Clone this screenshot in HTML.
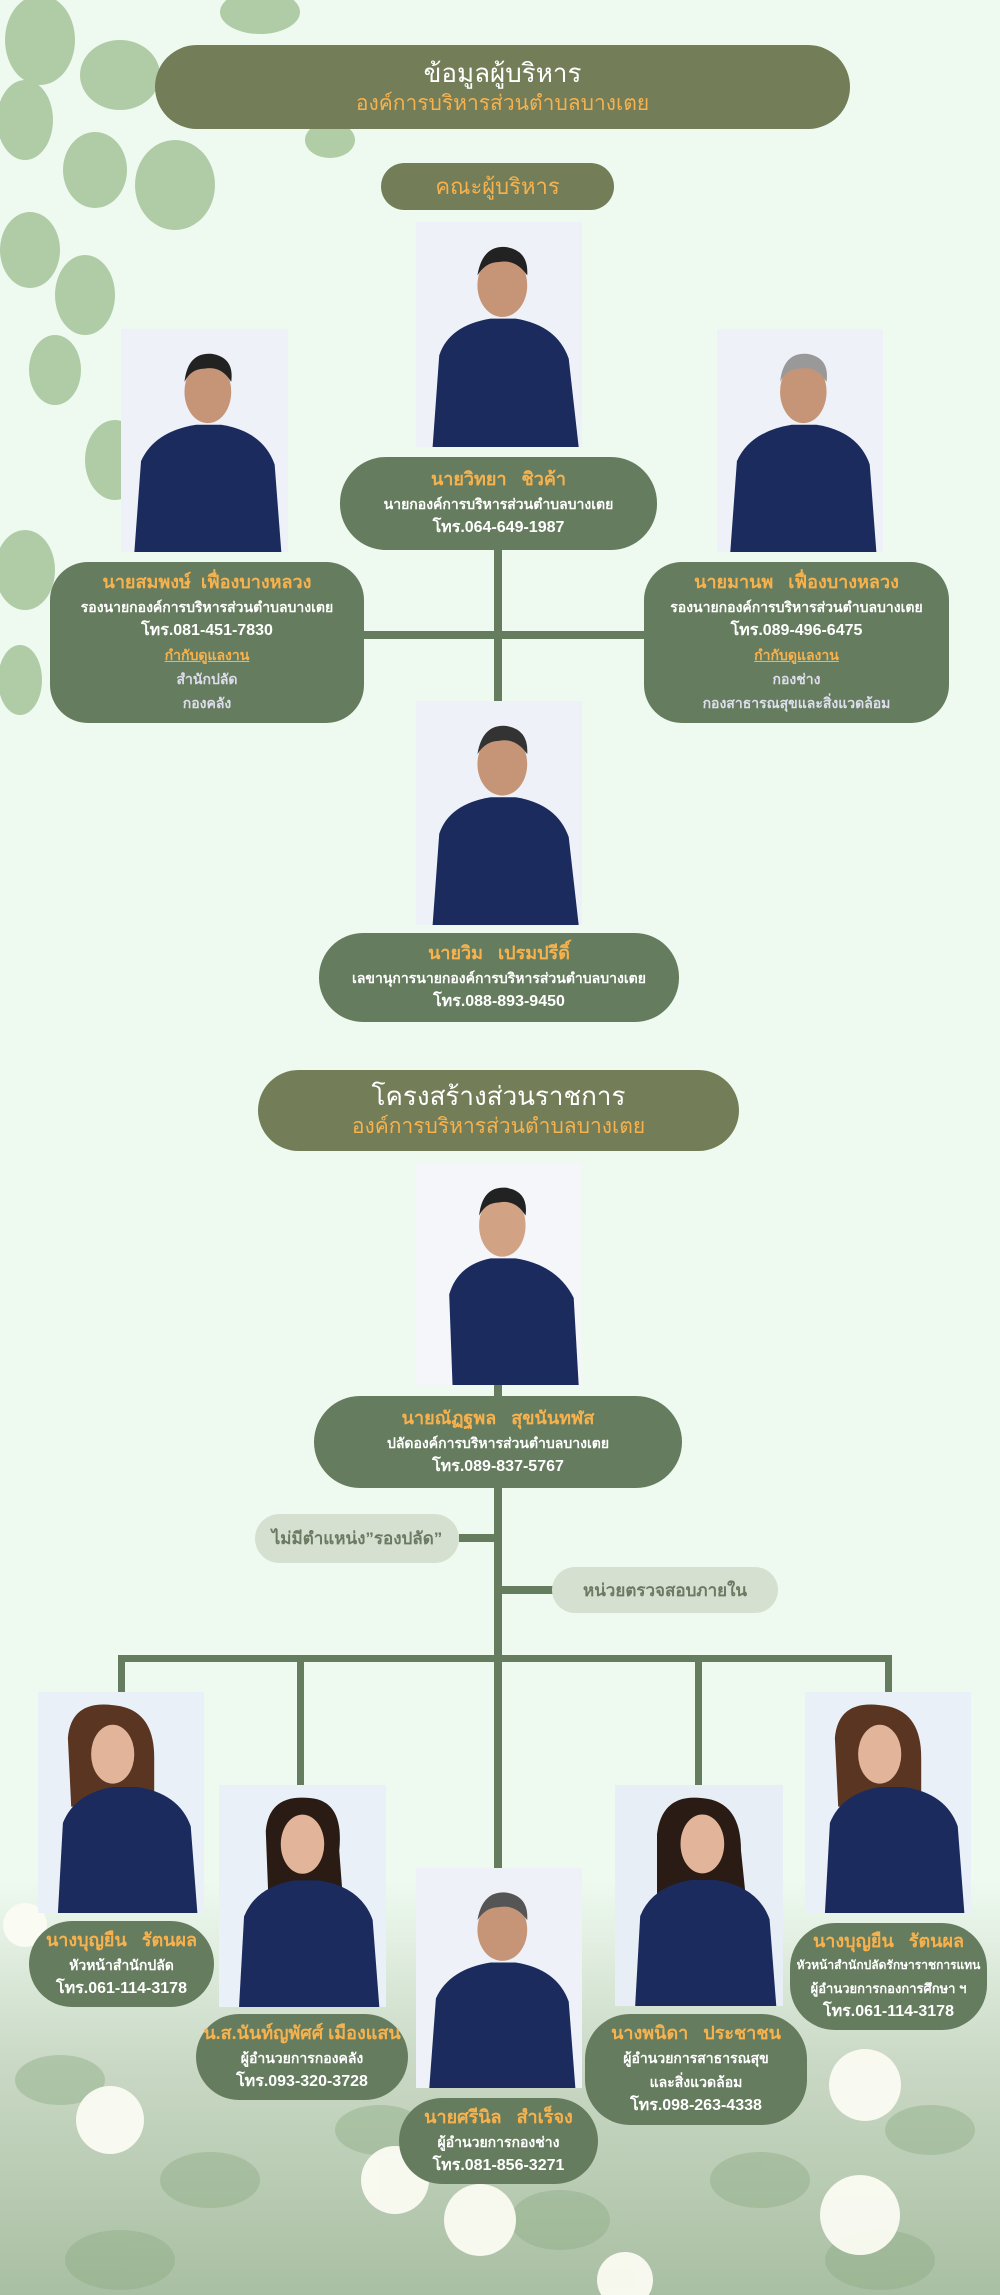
<!DOCTYPE html>
<html><head><meta charset="utf-8">
<style>
*{margin:0;padding:0;box-sizing:border-box}
body{width:1000px;height:2295px;position:relative;overflow:hidden;background:#eefaf0;font-family:"Liberation Sans","DejaVu Sans",sans-serif}
.a{position:absolute}
.pill{position:absolute;background:#737d58;border-radius:45px;text-align:center;color:#fff}
.box{position:absolute;background:#667c5e;border-radius:38px;text-align:center;color:#fff;font-weight:bold;display:flex;flex-direction:column;justify-content:center}
.box .n{color:#f7b24d;font-size:18px;line-height:25px}
.box div{font-size:14px;line-height:24px}
.ln{position:absolute;background:#667c5e}
.lp{position:absolute;background:#d6e0d0;color:#6b7a62;border-radius:26px;font-weight:bold;font-size:17px;display:flex;align-items:center;justify-content:center}
.ph{position:absolute}
.ph svg{width:100%;height:100%;display:block}
</style></head><body>
<!-- decorative leaves top-left -->
<svg class="a" style="left:0;top:0" width="380" height="760">
<g fill="#7fa76a" opacity="0.55">
<ellipse cx="40" cy="40" rx="35" ry="45"/><ellipse cx="120" cy="75" rx="40" ry="35"/>
<ellipse cx="25" cy="120" rx="28" ry="40"/><ellipse cx="95" cy="170" rx="32" ry="38"/>
<ellipse cx="175" cy="185" rx="40" ry="45"/><ellipse cx="30" cy="250" rx="30" ry="38"/>
<ellipse cx="85" cy="295" rx="30" ry="40"/><ellipse cx="55" cy="370" rx="26" ry="35"/>
<ellipse cx="115" cy="460" rx="30" ry="40"/><ellipse cx="25" cy="570" rx="30" ry="40"/>
<ellipse cx="80" cy="610" rx="30" ry="40"/><ellipse cx="20" cy="680" rx="22" ry="35"/>
<ellipse cx="260" cy="12" rx="40" ry="22"/><ellipse cx="330" cy="140" rx="25" ry="18"/>
</g></svg>
<!-- bottom floral -->
<div class="a" style="left:0;top:1880px;width:1000px;height:415px;background:linear-gradient(#eefaf000,#c9d8c4 45%,#a9bfa3)"></div>
<svg class="a" style="left:0;top:1880px" width="1000" height="415">
<g fill="#8fae86" opacity="0.45">
<ellipse cx="60" cy="200" rx="45" ry="25"/><ellipse cx="210" cy="300" rx="50" ry="28"/><ellipse cx="380" cy="250" rx="45" ry="25"/>
<ellipse cx="560" cy="340" rx="50" ry="30"/><ellipse cx="760" cy="300" rx="50" ry="28"/><ellipse cx="930" cy="250" rx="45" ry="25"/>
<ellipse cx="120" cy="380" rx="55" ry="30"/><ellipse cx="880" cy="380" rx="55" ry="30"/></g>
<g fill="#fbfbf2" opacity="0.95">
<circle cx="110" cy="240" r="34"/><circle cx="395" cy="300" r="34"/><circle cx="480" cy="340" r="36"/>
<circle cx="625" cy="400" r="28"/><circle cx="865" cy="205" r="36"/><circle cx="860" cy="335" r="40"/>
<circle cx="25" cy="45" r="22"/></g></svg>

<!-- titles -->
<div class="pill" style="left:155px;top:45px;width:695px;height:84px;border-radius:42px">
<div style="font-size:26px;line-height:32px;margin-top:12px">ข้อมูลผู้บริหาร</div>
<div style="font-size:21px;line-height:30px;color:#f7b24d">องค์การบริหารส่วนตำบลบางเตย</div></div>
<div class="pill" style="left:381px;top:163px;width:233px;height:47px;font-size:22px;line-height:47px;color:#f7b24d;border-radius:24px">คณะผู้บริหาร</div>

<!-- lines executives -->
<div class="ln" style="left:494px;top:540px;width:8px;height:165px"></div>
<div class="ln" style="left:360px;top:631px;width:290px;height:8px"></div>

<!-- photo template via repeated svg -->
<div class="ph" style="left:416px;top:222px;width:166px;height:225px"><svg viewBox="0 0 100 135" preserveAspectRatio="none"><rect width="100" height="135" fill="#eef2f8"/><path d="M10 135 L14 80 Q20 62 45 58 L60 58 Q85 62 92 82 L98 135Z" fill="#1c2b5e"/><ellipse cx="52" cy="38" rx="15" ry="19" fill="#c69577"/><path d="M37 32 Q40 14 54 15 Q68 17 67 32 Q60 22 50 24 Q42 24 37 32Z" fill="#222"/></svg></div>
<div class="ph" style="left:121px;top:329px;width:167px;height:223px"><svg viewBox="0 0 100 135" preserveAspectRatio="none"><rect width="100" height="135" fill="#eef2f8"/><path d="M8 135 L12 80 Q20 62 45 58 L60 58 Q85 62 92 82 L96 135Z" fill="#1c2b5e"/><ellipse cx="52" cy="38" rx="14" ry="19" fill="#c69577"/><path d="M38 32 Q40 14 54 15 Q68 17 66 32 Q60 22 50 24 Q42 24 38 32Z" fill="#222"/></svg></div>
<div class="ph" style="left:717px;top:329px;width:166px;height:223px"><svg viewBox="0 0 100 135" preserveAspectRatio="none"><rect width="100" height="135" fill="#eef2f8"/><path d="M8 135 L12 80 Q20 62 45 58 L60 58 Q85 62 92 82 L96 135Z" fill="#1c2b5e"/><ellipse cx="52" cy="38" rx="14" ry="19" fill="#c69577"/><path d="M38 32 Q40 14 54 15 Q68 17 66 32 Q60 22 50 24 Q42 24 38 32Z" fill="#999"/></svg></div>
<div class="ph" style="left:416px;top:701px;width:166px;height:224px"><svg viewBox="0 0 100 135" preserveAspectRatio="none"><rect width="100" height="135" fill="#eef2f8"/><path d="M10 135 L14 80 Q20 62 45 58 L60 58 Q85 62 92 82 L98 135Z" fill="#1c2b5e"/><ellipse cx="52" cy="38" rx="15" ry="19" fill="#c69577"/><path d="M37 32 Q40 14 54 15 Q68 17 67 32 Q60 22 50 24 Q42 24 37 32Z" fill="#333"/></svg></div>

<div class="box" style="left:340px;top:457px;width:317px;height:93px;border-radius:46px">
<div class="n">นายวิทยา &nbsp; ชิวค้า</div><div>นายกองค์การบริหารส่วนตำบลบางเตย</div><div style="font-size:16px">โทร.064-649-1987</div></div>
<div class="box" style="left:50px;top:562px;width:314px;height:161px">
<div class="n">นายสมพงษ์ &nbsp;เฟื่องบางหลวง</div><div>รองนายกองค์การบริหารส่วนตำบลบางเตย</div><div style="font-size:16px">โทร.081-451-7830</div><div style="color:#f7b24d;text-decoration:underline">กำกับดูแลงาน</div><div style="color:#dde">สำนักปลัด</div><div style="color:#dde">กองคลัง</div></div>
<div class="box" style="left:644px;top:562px;width:305px;height:161px">
<div class="n">นายมานพ &nbsp; เฟื่องบางหลวง</div><div>รองนายกองค์การบริหารส่วนตำบลบางเตย</div><div style="font-size:16px">โทร.089-496-6475</div><div style="color:#f7b24d;text-decoration:underline">กำกับดูแลงาน</div><div style="color:#dde">กองช่าง</div><div style="color:#dde">กองสาธารณสุขและสิ่งแวดล้อม</div></div>
<div class="box" style="left:319px;top:933px;width:360px;height:89px;border-radius:44px">
<div class="n">นายวิม &nbsp; เปรมปรีดิ์</div><div>เลขานุการนายกองค์การบริหารส่วนตำบลบางเตย</div><div style="font-size:16px">โทร.088-893-9450</div></div>

<!-- structure -->
<div class="pill" style="left:258px;top:1070px;width:481px;height:81px;border-radius:41px">
<div style="font-size:26px;line-height:32px;margin-top:10px">โครงสร้างส่วนราชการ</div>
<div style="font-size:21px;line-height:30px;color:#f7b24d">องค์การบริหารส่วนตำบลบางเตย</div></div>
<div class="ln" style="left:494px;top:1380px;width:8px;height:490px"></div>
<div class="ln" style="left:459px;top:1534px;width:40px;height:8px"></div>
<div class="ln" style="left:498px;top:1586px;width:55px;height:8px"></div>
<div class="ln" style="left:118px;top:1655px;width:774px;height:7px"></div>
<div class="ln" style="left:118px;top:1655px;width:7px;height:40px"></div>
<div class="ln" style="left:297px;top:1655px;width:7px;height:130px"></div>
<div class="ln" style="left:695px;top:1655px;width:7px;height:130px"></div>
<div class="ln" style="left:885px;top:1655px;width:7px;height:40px"></div>

<div class="ph" style="left:416px;top:1163px;width:166px;height:222px"><svg viewBox="0 0 100 135" preserveAspectRatio="none"><rect width="100" height="135" fill="#f4f6fa"/><path d="M22 135 L20 80 Q25 62 45 58 L60 58 Q85 62 95 82 L98 135Z" fill="#1c2b5e"/><ellipse cx="52" cy="38" rx="14" ry="19" fill="#d2a285"/><path d="M38 32 Q40 14 54 15 Q68 17 66 32 Q60 22 50 24 Q42 24 38 32Z" fill="#222"/></svg></div>
<div class="box" style="left:314px;top:1396px;width:368px;height:92px;border-radius:46px">
<div class="n">นายณัฏฐพล &nbsp; สุขนันทฬส</div><div>ปลัดองค์การบริหารส่วนตำบลบางเตย</div><div style="font-size:16px">โทร.089-837-5767</div></div>
<div class="lp" style="left:255px;top:1514px;width:204px;height:49px">ไม่มีตำแหน่ง”รองปลัด”</div>
<div class="lp" style="left:552px;top:1567px;width:226px;height:46px">หน่วยตรวจสอบภายใน</div>

<!-- staff photos -->
<div class="ph" style="left:38px;top:1692px;width:166px;height:221px"><svg viewBox="0 0 100 135" preserveAspectRatio="none"><rect width="100" height="135" fill="#eaf0f8"/><path d="M18 28 Q20 5 45 8 Q70 10 70 40 L70 70 L20 70Z" fill="#5a3522"/><path d="M12 135 L15 80 Q22 62 45 58 L60 58 Q85 62 92 82 L96 135Z" fill="#1c2b5e"/><ellipse cx="45" cy="38" rx="13" ry="18" fill="#e2b59a"/></svg></div>
<div class="ph" style="left:219px;top:1785px;width:167px;height:222px"><svg viewBox="0 0 100 135" preserveAspectRatio="none"><rect width="100" height="135" fill="#eaf0f8"/><path d="M28 28 Q30 5 55 8 Q75 10 72 40 L75 80 L30 80Z" fill="#2a1b14"/><path d="M12 135 L15 80 Q22 62 45 58 L60 58 Q85 62 92 82 L96 135Z" fill="#1c2b5e"/><ellipse cx="50" cy="36" rx="13" ry="18" fill="#e2b59a"/></svg></div>
<div class="ph" style="left:416px;top:1868px;width:166px;height:220px"><svg viewBox="0 0 100 135" preserveAspectRatio="none"><rect width="100" height="135" fill="#eef2f8"/><path d="M8 135 L12 80 Q20 62 45 58 L60 58 Q85 62 92 82 L96 135Z" fill="#1c2b5e"/><ellipse cx="52" cy="38" rx="15" ry="19" fill="#c69577"/><path d="M37 32 Q40 14 54 15 Q68 17 67 32 Q60 22 50 24 Q42 24 37 32Z" fill="#555"/></svg></div>
<div class="ph" style="left:615px;top:1785px;width:168px;height:221px"><svg viewBox="0 0 100 135" preserveAspectRatio="none"><rect width="100" height="135" fill="#e8eef6"/><path d="M25 30 Q28 5 52 8 Q75 10 75 40 L80 90 L25 90Z" fill="#2a1b14"/><path d="M12 135 L15 80 Q22 62 45 58 L60 58 Q85 62 92 82 L96 135Z" fill="#1c2b5e"/><ellipse cx="52" cy="36" rx="13" ry="18" fill="#e2b59a"/></svg></div>
<div class="ph" style="left:805px;top:1692px;width:166px;height:221px"><svg viewBox="0 0 100 135" preserveAspectRatio="none"><rect width="100" height="135" fill="#eaf0f8"/><path d="M18 28 Q20 5 45 8 Q70 10 70 40 L70 70 L20 70Z" fill="#5a3522"/><path d="M12 135 L15 80 Q22 62 45 58 L60 58 Q85 62 92 82 L96 135Z" fill="#1c2b5e"/><ellipse cx="45" cy="38" rx="13" ry="18" fill="#e2b59a"/></svg></div>

<div class="box" style="left:29px;top:1921px;width:185px;height:86px;border-radius:43px">
<div class="n">นางบุญยืน &nbsp; รัตนผล</div><div>หัวหน้าสำนักปลัด</div><div style="font-size:16px">โทร.061-114-3178</div></div>
<div class="box" style="left:196px;top:2014px;width:212px;height:86px;border-radius:43px">
<div class="n">น.ส.นันท์ญพัศศ์ เมืองแสน</div><div>ผู้อำนวยการกองคลัง</div><div style="font-size:16px">โทร.093-320-3728</div></div>
<div class="box" style="left:399px;top:2098px;width:199px;height:86px;border-radius:43px">
<div class="n">นายศรีนิล &nbsp; สำเร็จง</div><div>ผู้อำนวยการกองช่าง</div><div style="font-size:16px">โทร.081-856-3271</div></div>
<div class="box" style="left:585px;top:2014px;width:222px;height:111px;border-radius:45px">
<div class="n">นางพนิดา &nbsp; ประชาชน</div><div>ผู้อำนวยการสาธารณสุข</div><div>และสิ่งแวดล้อม</div><div style="font-size:16px">โทร.098-263-4338</div></div>
<div class="box" style="left:790px;top:1923px;width:197px;height:107px;border-radius:45px">
<div class="n">นางบุญยืน &nbsp; รัตนผล</div><div style="font-size:12px;line-height:23px">หัวหน้าสำนักปลัดรักษาราชการแทน</div><div style="font-size:13px;line-height:23px">ผู้อำนวยการกองการศึกษา ฯ</div><div style="font-size:16px">โทร.061-114-3178</div></div>
</body></html>
